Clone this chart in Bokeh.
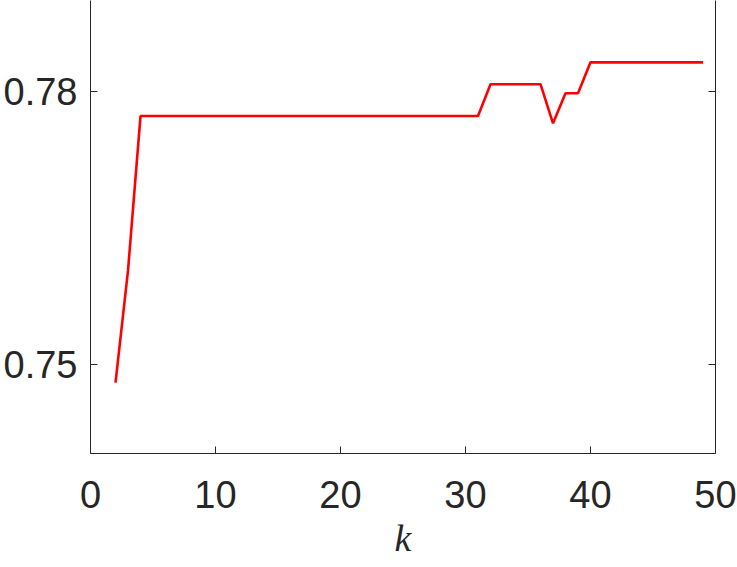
from bokeh.plotting import figure
from bokeh.models import LinearAxis, FixedTicker, Range1d, PrintfTickFormatter
from bokeh.embed import file_html
from bokeh.resources import INLINE

k_values = list(range(2, 50))
accuracy = [0.7480, 0.7603] + [0.7773] * 28 + [0.7808] * 5 + [0.7765, 0.7798, 0.7798] + [0.7832] * 10

x_ticks = [0, 10, 20, 30, 40, 50]
y_ticks = [0.75, 0.78]

ink = "#262626"
p = figure(frame_width=625, frame_height=453, min_border_left=90, min_border_right=22,
           min_border_top=0, min_border_bottom=114,
           x_range=Range1d(0, 50), y_range=Range1d(0.7402, 0.7900),
           output_backend="svg", toolbar_location=None, background_fill_color="white",
           border_fill_color="white")
p.outline_line_color = None
p.grid.visible = False

p.line(k_values, accuracy, line_color="#ff0000", line_width=2.6)

p.xaxis.ticker = FixedTicker(ticks=x_ticks)
p.yaxis.ticker = FixedTicker(ticks=y_ticks)
p.yaxis.formatter = PrintfTickFormatter(format="%.2f")

right = LinearAxis(ticker=FixedTicker(ticks=y_ticks),
                   major_label_overrides={0.75: "", 0.78: ""})
p.add_layout(right, "right")

for ax in [p.xaxis[0], p.yaxis[0], right]:
    ax.axis_line_color = ink
    ax.axis_line_width = 1
    ax.major_tick_line_color = ink
    ax.major_tick_in = 7
    ax.major_tick_out = 0
    ax.minor_tick_line_color = None
    ax.major_label_text_color = ink
    ax.major_label_text_font = "Liberation Sans"
    ax.major_label_text_font_size = "38px"
right.major_label_standoff = 0

p.xaxis.major_label_standoff = 27
p.yaxis.major_label_standoff = 13
p.xaxis.axis_label = "k"
p.xaxis.axis_label_text_font = "Liberation Serif"
p.xaxis.axis_label_text_font_style = "italic"
p.xaxis.axis_label_text_font_size = "38px"
p.xaxis.axis_label_text_color = ink
p.xaxis.axis_label_standoff = 6

open("out.html", "w").write(file_html(p, INLINE))
